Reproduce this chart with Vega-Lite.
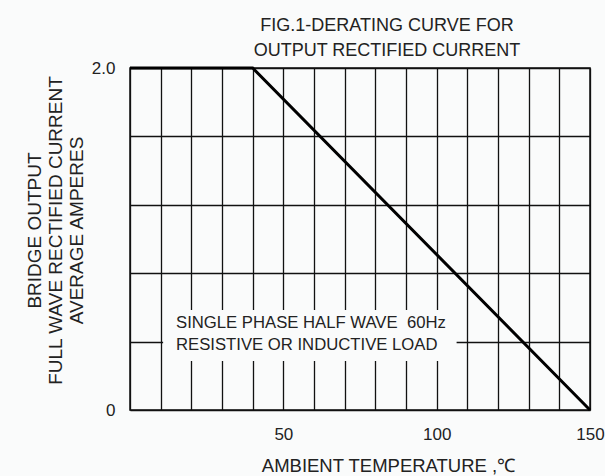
{
  "$schema": "https://vega.github.io/schema/vega-lite/v6.json",
  "width": 460,
  "height": 342,
  "autosize": {"type": "none"},
  "padding": {"left": 130, "top": 68, "right": 15, "bottom": 66},
  "background": "#fafbfb",
  "config": {
    "font": "Liberation Sans",
    "view": {"stroke": "#111111", "strokeWidth": 1.5},
    "axis": {"labelFont": "Liberation Sans", "titleFont": "Liberation Sans", "labelColor": "#222222", "titleColor": "#222222"}
  },
  "title": {
    "text": ["FIG.1-DERATING CURVE FOR", "OUTPUT RECTIFIED CURRENT"],
    "font": "Liberation Sans",
    "fontSize": 18,
    "fontWeight": "normal",
    "color": "#222222",
    "anchor": "middle",
    "frame": "group",
    "dx": 27,
    "offset": -1,
    "lineHeight": 25
  },
  "datasets": {
    "curve": [
      {"temp": 0, "amps": 2.0},
      {"temp": 40, "amps": 2.0},
      {"temp": 150, "amps": 0}
    ],
    "box": [
      {"x1": 10.8, "x2": 106.5, "y1": 0.287, "y2": 0.585}
    ],
    "note": [
      {"tx": 15, "ty": 0.51, "label": "SINGLE PHASE HALF WAVE\u00a0 60Hz"},
      {"tx": 15, "ty": 0.382, "label": "RESISTIVE OR INDUCTIVE LOAD"}
    ]
  },
  "layer": [
    {
      "data": {"name": "box"},
      "mark": {"type": "rect", "fill": "#fafbfb", "stroke": null},
      "encoding": {
        "x": {
          "field": "x1", "type": "quantitative",
          "scale": {"domain": [0, 150], "nice": false, "zero": false},
          "axis": {
            "values": [0, 10, 20, 30, 40, 50, 60, 70, 80, 90, 100, 110, 120, 130, 140, 150],
            "tickCount": 40,
            "labelExpr": "(datum.value == 50 || datum.value == 100 || datum.value == 150) ? datum.label : ''",
            "grid": true, "gridColor": "#111111", "gridWidth": 1.3, "gridOpacity": 1,
            "domain": false, "ticks": false, "tickSize": 0,
            "labelFontSize": 17, "labelPadding": 16, "labelFlush": false, "labelOverlap": false,
            "title": "AMBIENT TEMPERATURE ,℃",
            "titleFontSize": 18.5, "titleFontWeight": "normal",
            "titleX": 258, "titleY": 55, "titleBaseline": "middle", "titleAlign": "center"
          }
        },
        "x2": {"field": "x2"},
        "y": {
          "field": "y1", "type": "quantitative",
          "scale": {"domain": [0, 2], "nice": false, "zero": false},
          "axis": {
            "values": [0, 0.4, 0.8, 1.2, 1.6, 2.0],
            "tickCount": 20,
            "labelExpr": "datum.value == 0 ? '0' : (datum.value == 2 ? '2.0' : '')",
            "grid": true, "gridColor": "#111111", "gridWidth": 1.3, "gridOpacity": 1,
            "domain": false, "ticks": false, "tickSize": 0,
            "labelFontSize": 17, "labelPadding": 15, "labelFlush": false, "labelOverlap": false,
            "title": ["BRIDGE OUTPUT", "FULL WAVE RECTIFIED CURRENT", "AVERAGE AMPERES"],
            "titleFontSize": 19, "titleFontWeight": "normal", "titleLineHeight": 21,
            "titleAngle": -90, "titleX": -105, "titleY": 162, "titleBaseline": "top", "titleAlign": "center"
          }
        },
        "y2": {"field": "y2"}
      }
    },
    {
      "data": {"name": "note"},
      "mark": {"type": "text", "align": "left", "baseline": "middle", "fontSize": 16.7, "color": "#222222", "font": "Liberation Sans"},
      "encoding": {
        "x": {"field": "tx", "type": "quantitative"},
        "y": {"field": "ty", "type": "quantitative"},
        "text": {"field": "label"}
      }
    },
    {
      "data": {"name": "curve"},
      "mark": {"type": "line", "color": "#000000", "strokeWidth": 3, "clip": false},
      "encoding": {
        "x": {"field": "temp", "type": "quantitative"},
        "y": {"field": "amps", "type": "quantitative"}
      }
    }
  ]
}
